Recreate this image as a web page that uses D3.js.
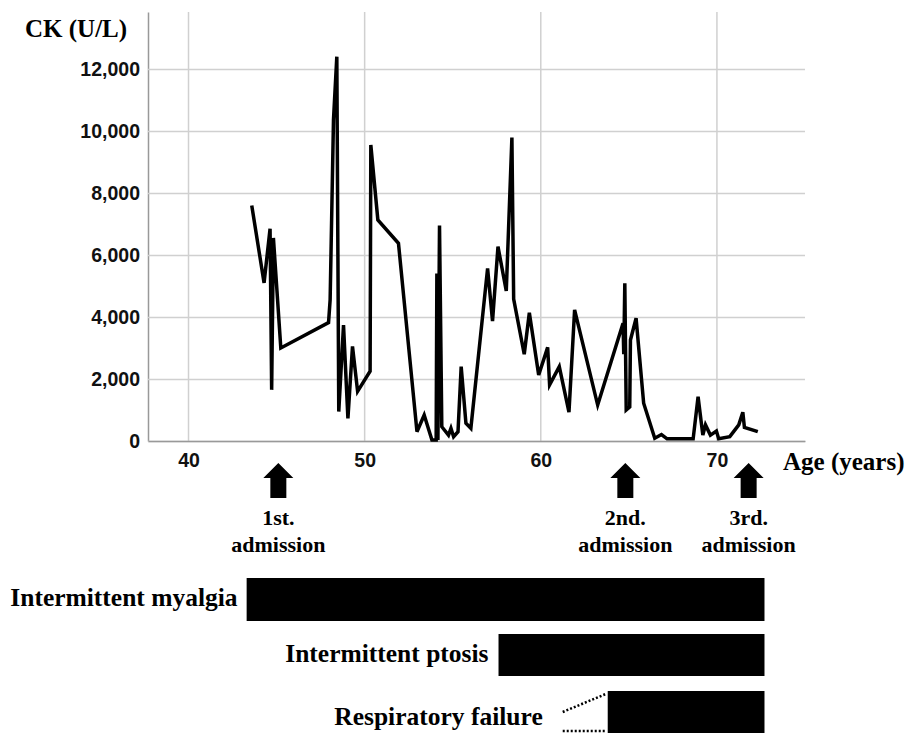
<!DOCTYPE html>
<html>
<head>
<meta charset="utf-8">
<script src="https://cdnjs.cloudflare.com/ajax/libs/d3/7.8.5/d3.min.js"></script>
<style>
  body { margin: 0; background: #fff; }
  svg { display: block; }
</style>
</head>
<body>
<div id="chart"></div>
<script>
var width = 908;
var height = 733;

// CK measurements (age in years, CK in U/L)
var ages = [43.59, 44.29, 44.63, 44.72, 44.82, 45.24, 47.95, 48.04, 48.23, 48.42,
            48.53, 48.80, 49.05, 49.31, 49.60, 50.31, 50.35, 50.75, 51.92, 52.97,
            53.38, 53.82, 54.06, 54.10, 54.16, 54.25, 54.38, 54.76, 54.90, 55.05,
            55.30, 55.48, 55.75, 56.03, 56.98, 57.26, 57.57, 58.04, 58.36, 58.46,
            59.06, 59.35, 59.88, 60.39, 60.50, 61.05, 61.60, 61.92, 63.23, 64.67,
            64.71, 64.77, 64.85, 65.05, 65.09, 65.41, 65.84, 66.47, 66.85, 67.17,
            68.65, 68.93, 69.20, 69.35, 69.63, 69.97, 70.10, 70.73, 71.24, 71.47,
            71.56, 72.32];
var ckValues = [7600, 5100, 6850, 1650, 6550, 3000, 3820, 4550, 10350, 12400,
                950, 3740, 730, 3050, 1600, 2250, 9550, 7130, 6380, 300,
                840, 30, 30, 5400, 30, 6950, 460, 190, 410, 140,
                300, 2400, 570, 410, 5570, 3870, 6270, 4840, 9790, 4580,
                2800, 4140, 2130, 3020, 1810, 2400, 930, 4230, 1160, 3800,
                2800, 5090, 1000, 1100, 3260, 3960, 1220, 90, 210, 70,
                70, 1430, 190, 520, 190, 320, 70, 140, 520, 930,
                440, 300];

var yTicks = [0, 2000, 4000, 6000, 8000, 10000, 12000];
var xTicks = [40, 50, 60, 70];

// admissions
var admissionAges = [45.1, 64.8, 71.8];
var admissionLabels = ["1st.", "2nd.", "3rd."];

// symptom periods
var symptomNames = ["Intermittent myalgia", "Intermittent ptosis", "Respiratory failure"];
var symptomStart = [43.3, 57.6, 63.8];
var symptomEnd = [72.7, 72.7, 72.7];

var svg = d3.select("#chart")
            .append("svg")
            .attr("width", width)
            .attr("height", height);

var x = d3.scaleLinear()
          .domain([37.7, 75])
          .range([148, 805]);

var y = d3.scaleLinear()
          .domain([0, 13840])
          .range([441, 12]);

var sans = "'Liberation Sans', Arial, sans-serif";
var serif = "'Liberation Serif', 'Times New Roman', serif";

// vertical grid
svg.selectAll("line.vgrid")
    .data(xTicks)
    .enter()
    .append("line")
    .attr("class", "vgrid")
    .attr("x1", function(d){ return x(d); })
    .attr("x2", function(d){ return x(d); })
    .attr("y1", y.range()[1])
    .attr("y2", y.range()[0])
    .style("stroke", "#d0d0d0")
    .style("stroke-width", 1.5);

// y axis with horizontal grid
var yAxis = svg.append("g")
    .attr("transform", "translate(" + x.range()[0] + ",0)")
    .call(d3.axisLeft(y)
        .tickValues(yTicks)
        .tickSize(-(x.range()[1] - x.range()[0]))
        .tickSizeOuter(0)
        .tickPadding(8)
        .tickFormat(d3.format(",")));

yAxis.selectAll(".tick line")
    .style("stroke", "#d0d0d0")
    .style("stroke-width", 1.5);
yAxis.select(".domain").style("stroke", "#999").style("stroke-width", 1.5);
yAxis.selectAll("text")
    .style("font-family", sans)
    .style("font-weight", "bold")
    .style("font-size", "19.5px")
    .style("fill", "#111");

// x axis
var xAxis = svg.append("g")
    .attr("transform", "translate(0," + y.range()[0] + ")")
    .call(d3.axisBottom(x)
        .tickValues(xTicks)
        .tickSize(0)
        .tickSizeOuter(0)
        .tickPadding(12));

xAxis.select(".domain").style("stroke", "#999").style("stroke-width", 1.5);
xAxis.selectAll("text")
    .style("font-family", sans)
    .style("font-weight", "bold")
    .style("font-size", "19.5px")
    .style("fill", "#111");

// axis titles
svg.append("text")
    .attr("x", 25)
    .attr("y", 37)
    .style("font-family", serif)
    .style("font-weight", "bold")
    .style("font-size", "25px")
    .text("CK (U/L)");

svg.append("text")
    .attr("x", 783)
    .attr("y", 470)
    .style("font-family", serif)
    .style("font-weight", "bold")
    .style("font-size", "25px")
    .text("Age (years)");

// CK line
var points = ages.map(function(a, i){ return [a, ckValues[i]]; });

var line = d3.line()
    .x(function(d){ return x(d[0]); })
    .y(function(d){ return y(d[1]); });

svg.append("path")
    .datum(points)
    .attr("d", line)
    .style("fill", "none")
    .style("stroke", "#000")
    .style("stroke-width", 3.5)
    .style("stroke-linejoin", "miter");

// admission arrows
var arrow = svg.selectAll("g.admission")
    .data(admissionAges)
    .enter()
    .append("g")
    .attr("class", "admission")
    .attr("transform", function(d){ return "translate(" + x(d) + ",0)"; });

arrow.append("path")
    .attr("d", "M0,463 L15,478 L8,478 L8,498 L-8,498 L-8,478 L-15,478 Z")
    .style("fill", "#000");

arrow.append("text")
    .attr("y", 525)
    .attr("text-anchor", "middle")
    .style("font-family", serif)
    .style("font-weight", "bold")
    .style("font-size", "22px")
    .text(function(d, i){ return admissionLabels[i]; });

arrow.append("text")
    .attr("y", 552)
    .attr("text-anchor", "middle")
    .style("font-family", serif)
    .style("font-weight", "bold")
    .style("font-size", "22px")
    .text("admission");

// symptom bars
var rowTop = [578, 634, 691];
var rowHeight = [43, 42, 50];
var labelGap = [9, 10, 65];

svg.selectAll("rect.symptom")
    .data(symptomNames)
    .enter()
    .append("rect")
    .attr("class", "symptom")
    .attr("x", function(d, i){ return x(symptomStart[i]); })
    .attr("y", function(d, i){ return rowTop[i]; })
    .attr("width", function(d, i){ return x(symptomEnd[i]) - x(symptomStart[i]); })
    .attr("height", function(d, i){ return rowHeight[i]; })
    .style("fill", "#000");

svg.selectAll("text.symptom")
    .data(symptomNames)
    .enter()
    .append("text")
    .attr("class", "symptom")
    .attr("x", function(d, i){ return x(symptomStart[i]) - labelGap[i]; })
    .attr("y", function(d, i){ return [606, 662, 725][i]; })
    .attr("text-anchor", "end")
    .style("font-family", serif)
    .style("font-weight", "bold")
    .style("font-size", "25.5px")
    .text(function(d){ return d; });

// dotted lines leading to respiratory failure bar
var rx = x(symptomStart[2]);
svg.append("line")
    .attr("x1", rx - 45).attr("y1", 712)
    .attr("x2", rx - 2).attr("y2", 694)
    .style("stroke", "#000")
    .style("stroke-width", 2.5)
    .style("stroke-dasharray", "2,2");
svg.append("line")
    .attr("x1", rx - 45).attr("y1", 731)
    .attr("x2", rx - 2).attr("y2", 731)
    .style("stroke", "#000")
    .style("stroke-width", 2.5)
    .style("stroke-dasharray", "2,2");
</script>
</body>
</html>
